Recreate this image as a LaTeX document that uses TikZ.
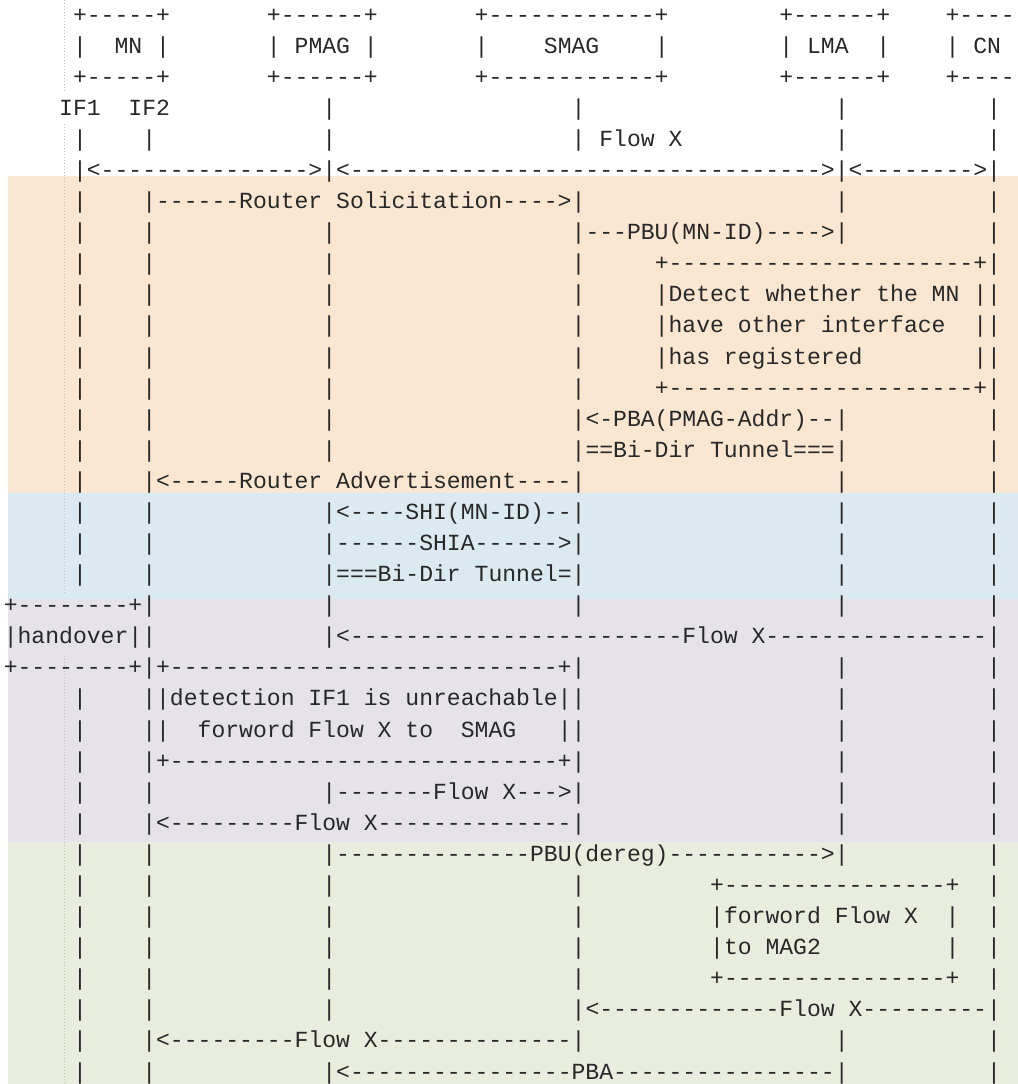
\documentclass[tikz,border=0pt]{standalone}
\usepackage{fontspec}
\setmonofont{Liberation Mono}

\definecolor{ink}{RGB}{40,40,40}
\definecolor{phaseA}{RGB}{250,230,209}
\definecolor{phaseB}{RGB}{218,234,240}
\definecolor{phaseC}{RGB}{229,226,234}
\definecolor{phaseD}{RGB}{232,237,222}
\definecolor{guidegray}{RGB}{190,190,190}

\tikzset{
  ascii/.style={anchor=base west, inner sep=0pt, outer sep=0pt, text=ink,
    font=\ttfamily\fontsize{11.54pt}{14pt}\selectfont},
  guide/.style={guidegray, line width=0.5pt, dash pattern=on 0.5pt off 1pt}
}

\begin{document}
\begin{tikzpicture}
\useasboundingbox (0,0) rectangle (509pt,-542pt);
\clip (0,0) rectangle (509pt,-542pt);

% phases
\fill[phaseA] (4pt,-88pt) rectangle (509pt,-246.5pt);
\fill[phaseB] (4pt,-246.5pt) rectangle (509pt,-299.5pt);
\fill[phaseC] (4pt,-299.5pt) rectangle (509pt,-421pt);
\fill[phaseD] (4pt,-421pt) rectangle (509pt,-542pt);

% indent guide of the editor
\draw[guide] (32pt,0pt) -- (32pt,-46pt);
\draw[guide] (32pt,-62pt) -- (32pt,-297pt);
\draw[guide] (32pt,-328pt) -- (32pt,-542pt);

\begin{scope}[x=6.925pt, y=-15.545pt, shift={(1.9pt,4.545pt)}, every node/.style=ascii]
  % entity boxes
  \foreach \r in {1,3} {
    \node (mn\r)   at (5,\r)  {+-----+};
    \node (pmag\r) at (19,\r) {+------+};
    \node (smag\r) at (34,\r) {+------------+};
    \node (lma\r)  at (56,\r) {+------+};
    \node (cn\r)   at (68,\r) {+----};
  }
  \foreach \c in {5,11,19,26,34,47,56,63,68}
    \node (side\c) at (\c,2) {|};
  \node (mn)   at (8,2)  {MN};
  \node (pmag) at (21,2) {PMAG};
  \node (smag) at (39,2) {SMAG};
  \node (lma)  at (58,2) {LMA};
  \node (cn)   at (70,2) {CN};
  \node (if1)  at (4,4)  {IF1};
  \node (if2)  at (9,4)  {IF2};

  % lifelines
  \foreach \r/\cols in {4/{23,41,60,71}, 5/{5,10,23,41,60,71}, 6/{5,23,60,71},
      7/{5,10,41,60,71}, 8/{5,10,23,41,60,71}, 9/{5,10,23,41,71},
      10/{5,10,23,41,71}, 11/{5,10,23,41,71}, 12/{5,10,23,41,71},
      13/{5,10,23,41,71}, 14/{5,10,23,41,60,71}, 15/{5,10,23,41,60,71},
      16/{5,10,41,60,71}, 17/{5,10,23,41,60,71}, 18/{5,10,23,41,60,71},
      19/{5,10,23,41,60,71}, 20/{10,23,41,60,71}, 21/{10,23,71},
      22/{10,41,60,71}, 23/{5,10,41,60,71}, 24/{5,10,41,60,71},
      25/{5,10,41,60,71}, 26/{5,10,23,41,60,71}, 27/{5,10,41,60,71},
      28/{5,10,23,60,71}, 29/{5,10,23,41,71}, 30/{5,10,23,41,71},
      31/{5,10,23,41,71}, 32/{5,10,23,41,71}, 33/{5,10,23,41,71},
      34/{5,10,41,60,71}, 35/{5,10,23,60,71}} {
    \foreach \c in \cols
      \node (l\r-\c) at (\c,\r) {|};
  }

  % flow X before handover
  \node (flowx) at (43,5) {Flow X};
  \node (span1) at (6,6)  {<--------------->};
  \node (span2) at (24,6) {<---------------------------------->};
  \node (span3) at (61,6) {<-------->};

  % attach on IF2
  \node (rs)    at (11,7)  {------Router Solicitation---->};
  \node (pbu)   at (42,8)  {---PBU(MN-ID)---->};
  \node (chk1)  at (47,9)  {+----------------------+};
  \node (chk2)  at (47,10) {|Detect whether the MN};
  \node (chk3)  at (47,11) {|have other interface};
  \node (chk4)  at (47,12) {|has registered};
  \foreach \r in {10,11,12}
    \node (chkr\r) at (70,\r) {|};
  \node (chk5)  at (47,13) {+----------------------+};
  \node (pba)   at (42,14) {<-PBA(PMAG-Addr)--};
  \node (tun1)  at (42,15) {==Bi-Dir Tunnel===};
  \node (ra)    at (11,16) {<-----Router Advertisement----};

  % PMAG and SMAG
  \node (shi)   at (24,17) {<----SHI(MN-ID)--};
  \node (shia)  at (24,18) {------SHIA------>};
  \node (tun2)  at (24,19) {===Bi-Dir Tunnel=};

  % handover
  \node (ho1)   at (0,20)  {+--------+};
  \node (ho2)   at (0,21)  {|handover|};
  \node (ho3)   at (0,22)  {+--------+};
  \node (fx1)   at (24,21) {<------------------------Flow X----------------};
  \node (det1)  at (11,22) {+----------------------------+};
  \node (det2)  at (11,23) {|detection IF1 is unreachable|};
  \node (det3)  at (11,24) {|};
  \node (det4)  at (14,24) {forword Flow X to};
  \node (det5)  at (33,24) {SMAG};
  \node (det6)  at (40,24) {|};
  \node (det7)  at (11,25) {+----------------------------+};
  \node (fx2)   at (24,26) {-------Flow X--->};
  \node (fx3)   at (11,27) {<---------Flow X--------------};

  % deregistration
  \node (dereg) at (24,28) {--------------PBU(dereg)----------->};
  \node (fw1)   at (51,29) {+----------------+};
  \node (fw2)   at (51,30) {|forword Flow X};
  \node (fw3)   at (51,31) {|to MAG2};
  \node (fw4)   at (68,30) {|};
  \node (fw5)   at (68,31) {|};
  \node (fw6)   at (51,32) {+----------------+};
  \node (fx4)   at (42,33) {<-------------Flow X---------};
  \node (fx5)   at (11,34) {<---------Flow X--------------};
  \node (pba2)  at (24,35) {<----------------PBA----------------};
\end{scope}
\end{tikzpicture}
\end{document}
